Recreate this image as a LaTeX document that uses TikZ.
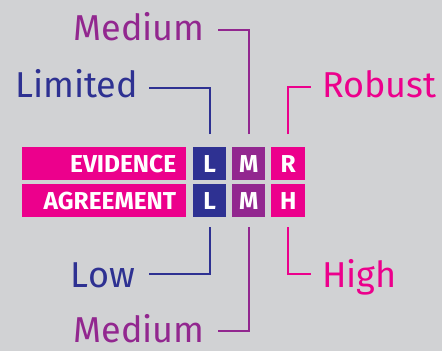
\documentclass[tikz,border=0pt]{standalone}
\usepackage{fontspec}
\setmainfont{Fira Sans}
\usetikzlibrary{calc}
\definecolor{bg}{HTML}{D1D2D4}
\definecolor{mag}{HTML}{EC008C}
\definecolor{blu}{HTML}{2E3192}
\definecolor{pur}{HTML}{92278F}
\begin{document}
\begin{tikzpicture}[x=1pt,y=-1pt,
  box/.style={inner sep=0pt, minimum height=33pt, text=white, font=\bfseries\fontsize{24.5}{24.5}\selectfont},
  rowlab/.style={box, fill=mag, text width=144pt, inner xsep=10pt, align=right, anchor=north west},
  sq/.style={box, minimum width=33pt, anchor=north west},
  lab/.style={font=\fontsize{36}{36}\selectfont, inner sep=0pt},
  conn/.style={line width=2pt}]
\fill[bg] (0,0) rectangle (442,351);
\useasboundingbox (0,0) rectangle (442,351);
% row labels
\node[rowlab] (ev) at (22,147) {EVIDENCE};
\node[rowlab] (ag) at (22,184) {AGREEMENT};
% squares
\node[sq, fill=blu] (Le) at (193,147) {L};
\node[sq, fill=pur] (Me) at (232,147) {M};
\node[sq, fill=mag, minimum width=34pt] (Re) at (271,147) {R};
\node[sq, fill=blu] (La) at (193,184) {L};
\node[sq, fill=pur] (Ma) at (232,184) {M};
\node[sq, fill=mag, minimum width=34pt] (Ha) at (271,184) {H};
% labels
\node[lab, text=blu, anchor=base east] (lim) at (138,97) {Limited};
\node[lab, text=pur, anchor=base east] (medt) at (205,40) {Medium};
\node[lab, text=mag, anchor=base west] (rob) at (322,97) {Robust};
\node[lab, text=blu, anchor=base east] (low) at (135,287) {Low};
\node[lab, text=pur, anchor=base east] (medb) at (205,342) {Medium};
\node[lab, text=mag, anchor=base west] (high) at (322,287) {High};
% connector ends
\coordinate (limE) at (149,88);
\coordinate (medtE) at (218,30);
\coordinate (robE) at (311,87);
\coordinate (lowE) at (149,274);
\coordinate (medbE) at (218,331);
\coordinate (highE) at (311,274);
% connectors
\draw[conn, blu] ($(Le.north)+(0,-13)$) |- (limE);
\draw[conn, pur] ($(Me.north)+(0,-13)$) |- (medtE);
\draw[conn, mag] ($(Re.north)+(0,-13)$) |- (robE);
\draw[conn, blu] ($(La.south)+(0,10)$) |- (lowE);
\draw[conn, pur] ($(Ma.south)+(0,10)$) |- (medbE);
\draw[conn, mag] ($(Ha.south)+(0,10)$) |- (highE);
\end{tikzpicture}
\end{document}
